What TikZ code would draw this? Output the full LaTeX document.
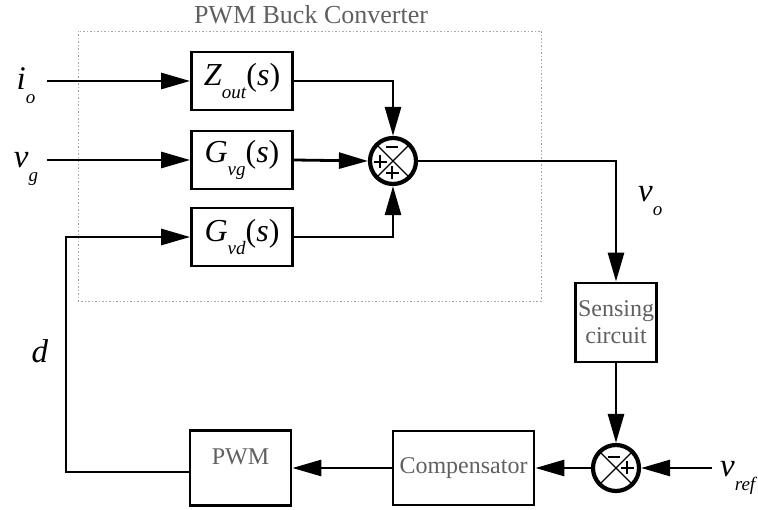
\documentclass[tikz,border=0pt]{standalone}
\usepackage{fontspec}
\setmainfont{Liberation Serif}
\usetikzlibrary{arrows.meta}
\definecolor{txtgray}{HTML}{606060}
\definecolor{dotgray}{HTML}{A8A8A8}
\newcommand{\msub}[2]{\textit{#1}\raisebox{-0.42em}{\fontsize{19}{19}\selectfont\textit{#2}}}
\newcommand{\plussign}[1]{\draw[sgn] ([xshift=-6.5pt]#1) -- ([xshift=6.5pt]#1) ([yshift=-6.5pt]#1) -- ([yshift=6.5pt]#1);}
\newcommand{\minussign}[1]{\draw[sgn] ([xshift=-6pt]#1) -- ([xshift=6pt]#1);}
\begin{document}
\begin{tikzpicture}[x=1pt,y=-1pt,
  blk/.style={draw, line width=2.8pt, minimum width=101pt, minimum height=58pt, inner sep=0pt, font=\fontsize{32}{32}\selectfont},
  gblk/.style={draw, line width=2.8pt, inner sep=0pt, text=txtgray, font=\fontsize{24}{27}\selectfont, align=center},
  sumj/.style={circle, draw, line width=4.2pt, minimum size=46pt, inner sep=0pt},
  conn/.style={line width=2.8pt, -{Triangle[length=29pt,width=16pt]}},
  wire/.style={line width=2.8pt},
  sgn/.style={line width=2.4pt},
  diag/.style={line width=1.1pt},
  lbl/.style={inner sep=0pt, font=\fontsize{33}{33}\selectfont}]
\useasboundingbox (0,0) rectangle (758,510);

% PWM buck converter frame
\draw[dotgray, line width=0.9pt, dash pattern=on 1.5pt off 2pt] (78,31) rectangle (541,301);
\node[text=txtgray, font=\fontsize{26}{26}\selectfont, anchor=base] (title) at (311,24) {PWM Buck Converter};

% blocks
\node[blk] (zout) at (242,81) {\msub{Z}{out}(\textit{s})};
\node[blk] (gvg) at (242,160) {\msub{G}{vg}(\textit{s})};
\node[blk] (gvd) at (242,237) {\msub{G}{vd}(\textit{s})};
\node[gblk, minimum width=81pt, minimum height=79pt] (sense) at (616,322.5) {Sensing\\circuit};
\node[gblk, minimum width=141pt, minimum height=74pt] (comp) at (463.5,468) {Compensator};
\node[gblk, minimum width=101pt, minimum height=75pt] (pwm) at (240.5,468) {};
\node[text=txtgray, font=\fontsize{24}{24}\selectfont, inner sep=0pt] (pwmtxt) at (240.5,457) {PWM};

% summing junctions
\node[sumj] (s1) at (393,161) {};
\node[sumj] (s2) at (616,468) {};
\draw[diag] (s1.north east) -- (s1.south west) (s1.north west) -- (s1.south east);
\draw[diag] (s2.north east) -- (s2.south west) (s2.north west) -- (s2.south east);
\coordinate (m1) at ([shift={(-1,-14)}]s1.center);
\coordinate (p1a) at ([shift={(-13,1)}]s1.center);
\coordinate (p1b) at ([shift={(-1,12)}]s1.center);
\minussign{m1}
\plussign{p1a}
\plussign{p1b}
\coordinate (m2) at ([shift={(-2,-11)}]s2.center);
\coordinate (p2) at ([shift={(11,0)}]s2.center);
\minussign{m2}
\plussign{p2}

% inputs
\coordinate (io) at (47,81);
\coordinate (vg) at (47,160);
\coordinate (vref) at (712,468);
\coordinate (fb) at (66,472);
\node[lbl, anchor=base] (iolbl) at (26,90) {\msub{i}{o}};
\node[lbl, anchor=base] (vglbl) at (26,168) {\msub{v}{g}};
\node[lbl, anchor=base] (dlbl) at (40,363) {\textit{d}};
\node[lbl, anchor=base west] (volbl) at (638,202) {\msub{v}{o}};
\node[lbl, anchor=base west] (vreflbl) at (720,477) {\msub{v}{ref}};

% connectors
\draw[conn] (io) -- (zout.west);
\draw[conn] (vg) -- (gvg.west);
\draw[conn] (zout.east) -| (s1.north);
\draw[conn] (gvg.east) -- (s1.west);
\draw[conn] (gvd.east) -| (s1.south);
\draw[conn] (s1.east) -| (sense.north);
\draw[conn] (sense.south) -- (s2.north);
\draw[conn] (vref) -- (s2.east);
\draw[conn] (s2.west) -- (comp.east);
\draw[conn] (comp.west) -- (pwm.east);
\draw[conn] (pwm.west |- fb) -- (fb) |- (gvd.west);
\end{tikzpicture}
\end{document}
